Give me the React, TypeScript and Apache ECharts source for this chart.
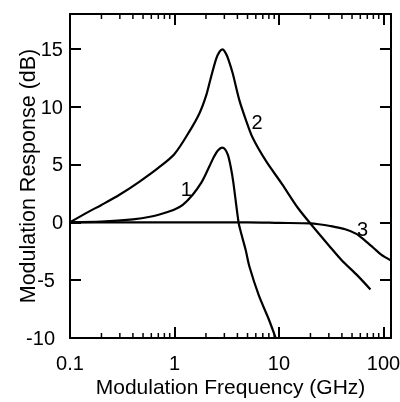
import React, { useEffect, useRef } from "react";
import * as echarts from "echarts";

// Modulation frequency (GHz) / response (dB) for three curves
const curve1: [number, number][] = [
  [0.1, 0], [0.2, 0.05], [0.4, 0.25], [0.6, 0.5], [0.8, 0.8], [1.0, 1.1],
  [1.2, 1.5], [1.5, 2.4], [1.8, 3.4], [2.0, 4.2], [2.2, 5.0], [2.4, 5.7],
  [2.6, 6.2], [2.85, 6.45], [3.05, 6.3], [3.25, 5.8], [3.45, 4.8], [3.65, 3.5],
  [4.1, 0], [4.3, -0.8], [4.8, -2.4], [5.2, -3.8], [6.4, -6.3], [8.0, -8.4], [9.3, -10],
];
const curve2: [number, number][] = [
  [0.1, 0], [0.15, 0.9], [0.2, 1.5], [0.3, 2.4], [0.46, 3.5], [0.7, 4.7],
  [1.0, 5.9], [1.4, 7.9], [1.73, 9.4], [2.0, 10.9], [2.2, 12.3], [2.5, 14.1],
  [2.7, 14.75], [2.88, 14.95], [3.1, 14.6], [3.3, 14.0], [3.6, 12.9],
  [4.16, 10.6], [4.8, 8.9], [5.6, 7.3], [7.5, 5.3], [10.7, 3.3], [15, 1.3],
  [20.8, -0.3], [30, -2.0], [40, -3.3], [55, -4.5], [75, -5.8],
];
const curve3: [number, number][] = [
  [0.1, 0], [1, 0], [5, 0], [10, -0.05], [20, -0.1], [24, -0.17], [30, -0.3],
  [43, -0.6], [55, -1.0], [67, -1.6], [80, -2.2], [95, -2.8], [118, -3.3],
];
const curveLabels: [number, number, string][] = [
  [1.3, 2.84, "1"],
  [6.17, 8.66, "2"],
  [63, -0.56, "3"],
];
const minorTicks: number[] = [
  0.2, 0.3, 0.4, 0.5, 0.6, 0.7, 0.8, 0.9,
  2, 3, 4, 5, 6, 7, 8, 9,
  20, 30, 40, 50, 60, 70, 80, 90,
];
const X_MIN = 0.1;
const X_MAX = 118;
const Y_MIN = -10;
const Y_MAX = 18;
const Y_INTERVAL = 5;

const FONT = "'Liberation Sans', Arial, Helvetica, sans-serif";

export default function App() {
  const ref = useRef<HTMLDivElement>(null);
  useEffect(() => {
    if (!ref.current) return;
    const chart = echarts.init(ref.current, undefined, { renderer: "svg" });
    const isPow10 = (v: number) => {
      const l = Math.log10(v);
      return Math.abs(l - Math.round(l)) < 1e-6;
    };
    const lineStyle = { color: "#000", width: 2.2 };
    const xCommon = {
      type: "log" as const,
      logBase: 10,
      min: X_MIN,
      max: X_MAX,
      axisLine: { show: true, onZero: false, lineStyle: { color: "#000", width: 2 } },
      axisTick: { show: true, inside: true, length: 11, lineStyle: { color: "#000", width: 2 } },
      splitLine: { show: false },
      minorTick: { show: false },
    };
    const yCommon = {
      type: "value" as const,
      min: Y_MIN,
      max: Y_MAX,
      interval: Y_INTERVAL,
      axisLine: { show: true, onZero: false, lineStyle: { color: "#000", width: 2 } },
      axisTick: { show: true, inside: true, length: 11, lineStyle: { color: "#000", width: 2 } },
      splitLine: { show: false },
    };
    chart.setOption({
      animation: false,
      grid: { left: 70, right: 9, top: 14, bottom: 64, containLabel: false, outerBoundsMode: "none" },
      xAxis: [
        {
          ...xCommon,
          position: "bottom",
          name: "Modulation Frequency (GHz)",
          nameLocation: "middle",
          nameGap: 38,
          nameMoveOverlap: false,
          nameTextStyle: { fontSize: 21, fontFamily: FONT, color: "#000" },
          axisLabel: {
            show: true,
            margin: 15,
            fontSize: 20,
            fontFamily: FONT,
            color: "#000",
            formatter: (v: number) => (isPow10(v) ? (v < 1 ? "0.1" : String(Math.round(v))) : ""),
          },
        },
        { ...xCommon, position: "top", axisLabel: { show: false } },
      ],
      yAxis: [
        {
          ...yCommon,
          position: "left",
          name: "Modulation Response (dB)",
          nameLocation: "middle",
          nameGap: 31,
          nameMoveOverlap: false,
          nameTextStyle: { fontSize: 21.5, fontFamily: FONT, color: "#000" },
          axisLabel: {
            show: true,
            margin: 7,
            fontSize: 20,
            fontFamily: FONT,
            color: "#000",
            formatter: (v: number) =>
              v % 5 !== 0 ? "" : v < 0 ? `{neg|${v}}` : String(v),
            rich: {
              neg: { fontSize: 20, fontFamily: FONT, color: "#000", padding: [0, 8, 0, 0] },
            },
          },
        },
        { ...yCommon, position: "right", axisLabel: { show: false } },
      ],
      series: [
        { type: "line", data: curve1, showSymbol: false, symbol: "none", smooth: 0.3, lineStyle, xAxisIndex: 0, yAxisIndex: 0 },
        { type: "line", data: curve2, showSymbol: false, symbol: "none", smooth: 0.3, lineStyle, xAxisIndex: 0, yAxisIndex: 0 },
        { type: "line", data: curve3, showSymbol: false, symbol: "none", smooth: 0.3, lineStyle, xAxisIndex: 0, yAxisIndex: 0 },
        {
          type: "scatter",
          data: curveLabels,
          symbolSize: 1,
          itemStyle: { color: "rgba(0,0,0,0)" },
          label: {
            show: true,
            position: "inside",
            formatter: (p: any) => p.data[2],
            fontSize: 20,
            fontFamily: FONT,
            color: "#000",
            opacity: 1,
            textBorderWidth: 0,
          },
        },
        {
          type: "custom",
          data: minorTicks.map((v) => [v, Y_MIN]),
          renderItem: (_params: any, api: any) => {
            const v = api.value(0);
            const b = api.coord([v, Y_MIN]);
            const t = api.coord([v, Y_MAX]);
            const style = { stroke: "#000", lineWidth: 1.5 };
            return {
              type: "group",
              children: [
                { type: "line", shape: { x1: b[0], y1: b[1], x2: b[0], y2: b[1] - 5 }, style },
                { type: "line", shape: { x1: t[0], y1: t[1], x2: t[0], y2: t[1] + 5 }, style },
              ],
            };
          },
        },
      ],
    });
    return () => chart.dispose();
  }, []);
  return (
    <div
      ref={ref}
      style={{ position: "fixed", left: 0, top: 0, width: 400, height: 402 }}
    />
  );
}
